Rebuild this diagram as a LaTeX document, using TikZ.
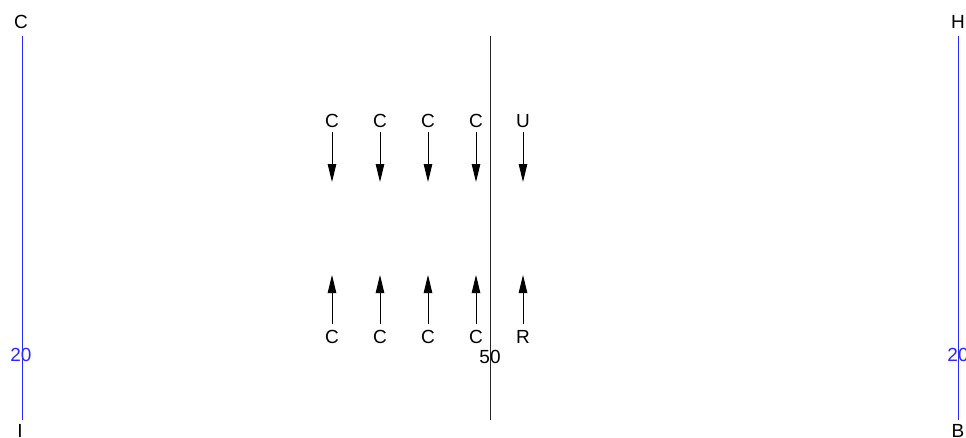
\documentclass[tikz,border=0pt]{standalone}
\usepackage{fontspec}
\setmainfont{Liberation Sans}
\usetikzlibrary{arrows.meta}
\definecolor{lblue}{RGB}{40,40,255}
\tikzset{
  lbl/.style={inner sep=0pt, font=\fontsize{19}{19}\selectfont},
  blbl/.style={lbl, text=lblue},
  bline/.style={draw=lblue, line width=1pt},
  kline/.style={draw=black!85, line width=1pt},
  arr/.style={draw=black, line width=1pt, -{Triangle[width=8.5pt,length=18pt]}},
}
\begin{document}
\begin{tikzpicture}[x=1pt,y=-1pt]
\useasboundingbox (0,0) rectangle (966,437);
% left blue line
\coordinate (l1) at (22,36);
\coordinate (l2) at (22,420);
\draw[bline] (l1) -- (l2);
\node[lbl] (lc) at (21,22) {C};
\node[blbl] (l20) at (21,355) {20};
\node[lbl] (li) at (20,431) {I};
% right blue line
\coordinate (r1) at (958,36);
\coordinate (r2) at (958,420);
\draw[bline] (r1) -- (r2);
\node[lbl] (rh) at (958,22) {H};
\node[blbl] (r20) at (958,355) {20};
\node[lbl] (rb) at (958,431) {B};
% center line
\coordinate (c1) at (490,36);
\coordinate (c2) at (490,420);
\draw[kline] (c1) -- (c2);
\node[lbl] (c50) at (490,357) {50};
% top arrows
\foreach \x/\t [count=\i] in {332/C,380/C,428/C,476/C,523/U}{
  \node[lbl] (t\i) at (\x,121) {\t};
  \coordinate (ts\i) at (\x,132);
  \coordinate (te\i) at (\x,182);
  \draw[arr] (ts\i) -- (te\i);
}
% bottom arrows
\foreach \x/\t [count=\i] in {332/C,380/C,428/C,476/C,523/R}{
  \node[lbl] (b\i) at (\x,337) {\t};
  \coordinate (bs\i) at (\x,324);
  \coordinate (be\i) at (\x,275);
  \draw[arr] (bs\i) -- (be\i);
}
\end{tikzpicture}
\end{document}
